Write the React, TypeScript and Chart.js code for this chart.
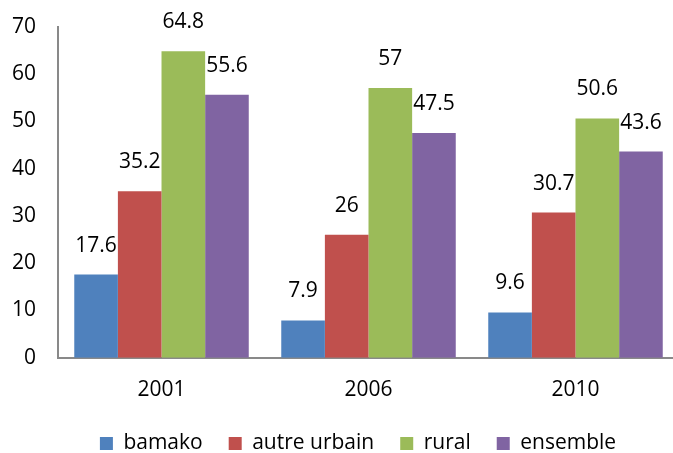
import React, { useEffect, useRef } from "react";
import { Chart, registerables } from "chart.js";

Chart.register(...registerables);

const categories = ["2001", "2006", "2010"];
const bamako = [17.6, 7.9, 9.6];
const autreUrbain = [35.2, 26, 30.7];
const rural = [64.8, 57, 50.6];
const ensemble = [55.6, 47.5, 43.6];
const yTicks = [0, 10, 20, 30, 40, 50, 60, 70];

const FONT = "'Open Sans', 'Noto Sans', sans-serif";
const FS = 21;

const valueLabels = {
  id: "valueLabels",
  afterDatasetsDraw(chart: any) {
    const ctx = chart.ctx;
    ctx.save();
    ctx.font = `${FS}px ${FONT}`;
    ctx.fillStyle = "#000";
    ctx.textAlign = "center";
    ctx.textBaseline = "alphabetic";
    chart.data.datasets.forEach((ds: any, i: number) => {
      const meta = chart.getDatasetMeta(i);
      meta.data.forEach((bar: any, j: number) => {
        ctx.fillText(String(ds.data[j]), bar.x, bar.y - 23);
      });
    });
    ctx.restore();
  },
};

const legendTweak = {
  id: "legendTweak",
  afterLayout(chart: any) {
    const lg = chart.legend;
    if (lg) {
      const shift = 358 - (lg.left + lg.right) / 2;
      lg.left += shift;
      lg.right += shift;
      lg.top -= 8;
      lg.bottom -= 8;
    }
  },
};

export default function App() {
  const ref = useRef<HTMLCanvasElement>(null);
  useEffect(() => {
    if (!ref.current) return;
    const chart = new Chart(ref.current, {
      type: "bar",
      data: {
        labels: categories,
        datasets: [
          { label: "bamako", data: bamako, backgroundColor: "#4F81BD" },
          { label: "autre urbain", data: autreUrbain, backgroundColor: "#C0504D" },
          { label: "rural", data: rural, backgroundColor: "#9BBB59" },
          { label: "ensemble", data: ensemble, backgroundColor: "#8064A2" },
        ],
      },
      options: {
        responsive: false,
        animation: false,
        layout: { padding: { top: 8, right: 31, left: -2, bottom: -19 } },
        datasets: { bar: { categoryPercentage: 0.843, barPercentage: 1.0 } },
        plugins: {
          legend: {
            position: "bottom",
            labels: {
              boxWidth: 13,
              boxHeight: 13,
              padding: 26,
              color: "#000",
              font: { family: FONT, size: FS },
            },
          },
          tooltip: { enabled: false },
        },
        scales: {
          x: {
            grid: { display: false },
            border: { display: true, color: "#898989", width: 2 },
            ticks: { color: "#000", font: { family: FONT, size: FS }, padding: 12 },
          },
          y: {
            min: 0,
            max: 70,
            afterBuildTicks: (axis: any) => {
              axis.ticks = yTicks.map((v) => ({ value: v }));
            },
            grid: { display: false },
            border: { display: true, color: "#898989", width: 2 },
            ticks: { color: "#000", font: { family: FONT, size: FS }, padding: 14 },
          },
        },
      },
      plugins: [valueLabels, legendTweak],
    });
    return () => chart.destroy();
  }, []);
  return (
    <div style={{ position: "absolute", left: 0, top: 0, width: 673, height: 453, overflow: "hidden", background: "#fff" }}>
      <canvas ref={ref} width={710} height={453} />
    </div>
  );
}
